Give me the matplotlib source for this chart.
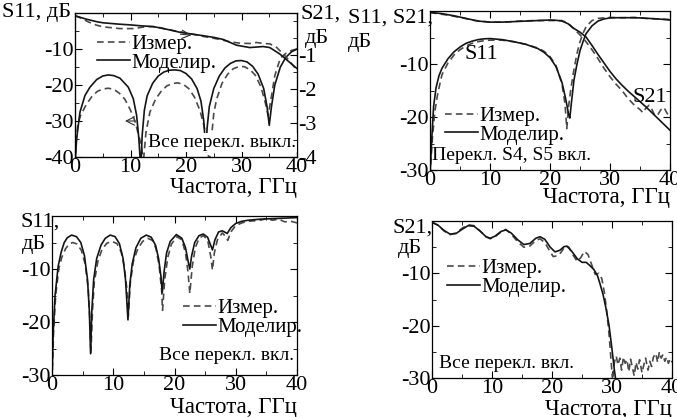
import matplotlib.pyplot as plt
from matplotlib.ticker import MultipleLocator

plt.rcParams['font.family'] = ['Liberation Serif', 'DejaVu Serif']
plt.rcParams['axes.unicode_minus'] = False
plt.rcParams['font.size'] = 15

# ---- panel a: all switches off (S11 left axis, S21 right axis) ----
fa_s11_sim = [0, 0.3, 0.9, 1.8, 2.7, 3.9, 5, 6, 7, 8.1, 9.6, 10.5, 11.1, 11.5, 11.8,
              11.9, 12.1, 12.5, 13, 14, 15, 16, 17, 18, 19, 20, 21, 22, 22.7, 23.2, 23.6,
              23.8, 24.2, 25, 26, 27, 28, 29, 30, 31, 32, 33, 34, 34.6, 35, 35.4, 36, 37, 38, 39, 40]
a_s11_sim = [-42, -34.8, -27.5, -22.9, -20.6, -18.5, -17.5, -17.2, -17.4, -18.1, -20.6, -23.8, -28.4, -34.8, -42,
             -42, -34, -27, -23, -19.5, -17.5, -16.4, -15.9, -15.8, -16.0, -16.8, -18.3, -21, -24.5, -30, -38.5,
             -32, -26, -21, -17.5, -15.3, -14, -13.3, -13.2, -13.6, -14.8, -17, -21, -26, -31.2, -26, -20, -15, -12.3, -10.8, -10.0]
fa_s11_meas = [0, 0.2, 0.5, 1, 2, 3, 4, 5, 6, 7, 8, 9, 10, 10.8, 11.3, 12, 12.3,
               12.5, 12.8, 13.5, 14.5, 15.5, 16.5, 17.5, 18.5, 19.5, 20.5, 21.5, 22.5, 23.2, 23.8, 24.2,
               24.5, 25, 25.5, 26.5, 27.5, 28.5, 29.5, 30.5, 31.5, 32.5, 33.5, 34.3, 34.8, 35.3, 36, 37, 38, 39, 40]
a_s11_meas = [-42, -36, -31, -28.5, -25.5, -23.3, -21.8, -21.1, -20.9, -21.2, -22.3, -24, -27, -30, -33, -37, -42,
              -38, -33, -27.5, -24, -21.8, -20.3, -19.6, -19.4, -19.8, -21, -23.3, -27, -31, -36, -42,
              -36, -28, -24, -19.5, -17, -15.5, -14.9, -14.9, -15.7, -17.3, -20.5, -25, -28.5, -24, -17.4, -12.5, -11.2, -10.4, -10.0]
fa_s21_sim = [0, 2, 4, 5.1, 8, 9.9, 12, 14.1, 17.1, 18.9, 21, 23.1, 25, 26.7, 29.1, 31.5, 33.9, 35.1, 36.9, 38.7, 40]
a_s21_sim = [0.17, 0.07, -0.01, -0.04, -0.08, -0.10, -0.13, -0.15, -0.25, -0.32, -0.37, -0.42, -0.47, -0.53,
             -0.70, -0.77, -0.74, -0.77, -0.96, -1.21, -1.39]
fa_s21_meas = [0, 0.9, 2.5, 3.9, 5.1, 8.1, 10.5, 12.9, 14.7, 17.1, 19.5, 23.1, 26.1, 27.9, 29.7, 31.5, 32.7,
               34, 35.1, 36.3, 38.1, 39, 40]
a_s21_meas = [0.17, 0.11, -0.02, -0.11, -0.16, -0.21, -0.21, -0.15, -0.16, -0.25, -0.32, -0.44, -0.53, -0.60,
              -0.64, -0.65, -0.62, -0.65, -0.66, -0.76, -1.06, -1.24, -1.45]

# ---- panel b: switches S4, S5 on ----
fb_s11_sim = [0, 0.3, 0.6, 1, 1.5, 2, 3, 4, 5, 6, 7, 8, 9, 10, 12, 14, 16, 18, 19, 20, 21, 22, 22.6, 23.1, 23.3,
              23.6, 24, 24.5, 25, 25.5, 26, 27, 28, 29, 30, 32, 35, 38, 40]
b_s11_sim = [-31, -24, -18, -14.5, -12.2, -10.8, -9.0, -7.7, -6.8, -6.1, -5.7, -5.4, -5.25, -5.2, -5.4, -5.8,
             -6.3, -7.1, -7.8, -8.8, -10.5, -13.5, -16.5, -19.5, -20.2,
             -17, -13, -10, -7.5, -5.8, -4.3, -2.8, -1.9, -1.5, -1.3, -1.25, -1.3, -1.5, -1.7]
fb_s11_meas = [0, 0.4, 0.8, 1.3, 2, 3, 4, 5, 6, 7, 8, 9, 10, 12, 14, 16, 18, 19, 20, 21, 22, 22.5, 22.8,
               23.1, 23.5, 24, 24.5, 25, 25.5, 26, 27, 28, 30, 32, 34, 36, 38, 40]
b_s11_meas = [-31, -24, -19, -15.5, -12.0, -9.8, -8.3, -7.3, -6.6, -6.1, -5.8, -5.6, -5.5, -5.5, -5.8, -6.3,
              -7.0, -7.6, -8.6, -10.3, -13.8, -17.5, -22.2,
              -18, -14.5, -11, -8, -5.8, -4.2, -3.0, -1.8, -1.4, -1.2, -1.3, -1.2, -1.4, -1.5, -1.6]
fb_s21_sim = [0, 2, 4, 6, 8, 10, 12, 14, 16, 18, 20, 21, 22, 23, 24, 25, 26, 27, 28, 29, 30, 31, 32, 33, 34,
              35, 36, 37, 38, 39, 40]
b_s21_sim = [-0.25, -0.5, -0.9, -1.4, -1.9, -2.1, -2.1, -2.0, -1.9, -1.8, -1.7, -1.75, -1.9, -2.4, -3.3, -4.0,
             -4.9, -6.5, -8.2, -9.8, -11.4, -12.8, -14.0, -15.1, -16.1, -17.1, -18.1, -19.2, -20.3, -21.4, -22.5]
fb_s21_meas = [0, 2.5, 5, 7.5, 10, 12.5, 15, 17.5, 20, 22, 23, 24, 25, 26, 27, 28, 29, 30, 31, 32, 33, 34,
               35, 35.5, 36, 36.5, 37, 37.5, 38, 38.5, 39, 39.5, 40]
b_s21_meas = [-0.3, -0.7, -1.2, -1.8, -2.1, -2.1, -1.9, -1.8, -1.8, -1.8, -2.3, -3.4, -4.5, -5.8, -7.3, -9.0,
              -10.8, -12.4, -13.8, -15, -16.5, -17.7, -18.6, -19.2, -18.3, -17.8, -18.6, -19.8, -19.5, -18.6,
              -18.2, -19.3, -20]

# ---- panel c: all switches on, S11 ----
fc_s11_sim = [0, 0.2, 0.5, 1, 1.5, 2, 2.5, 3.2, 4, 4.7, 5.3, 5.8, 6.1, 6.3, 6.5, 6.8, 7.3, 8, 8.7, 9.5,
              10.3, 11, 11.6, 12.0, 12.4, 12.7, 13.1, 13.7, 14.5, 15.4, 16.2, 16.9, 17.4, 17.8, 18.0,
              18.3, 18.7, 19.3, 20.3, 21.2, 21.8, 22.3, 22.5, 22.8, 23.3, 24.0, 24.7, 25.4, 25.9, 26.2,
              26.6, 27.2, 27.8, 28.3, 28.6, 29.2, 30, 31, 32, 34, 36, 38, 40]
c_s11_sim = [-31, -22, -15, -9.5, -6.8, -5.0, -4.1, -3.6, -3.9, -5.0, -7.5, -12, -18, -26, -18, -12, -8, -5.5,
             -4.2, -3.6, -3.9, -5.2, -8, -12, -19.6, -13, -9, -6, -4.2, -3.6, -4.0, -5.5, -8, -11.5, -14.5,
             -10.5, -7, -4.8, -3.5, -4.2, -6, -9, -10, -7.5, -5, -3.7, -3.4, -4.0, -5.5, -6.4,
             -4.5, -3.0, -2.8, -3.1, -3.3, -2.2, -1.4, -1.0, -0.8, -0.6, -0.5, -0.4, -0.3]
fc_s11_meas = [0, 0.25, 0.6, 1.1, 1.6, 2.2, 2.8, 3.4, 4.1, 4.8, 5.4, 5.9, 6.2, 6.35, 6.6, 6.9, 7.5, 8.2, 9,
               9.8, 10.6, 11.3, 11.8, 12.2, 12.45, 12.8, 13.3, 14, 14.8, 15.6, 16.4, 17.0, 17.5, 17.9, 18.05,
               18.4, 18.9, 19.5, 20.4, 21.2, 21.8, 22.2, 22.5, 22.9, 23.4, 24, 24.7, 25.4, 25.9, 26.2,
               26.5, 27, 27.8, 28.3, 28.7, 29.2, 30, 31, 32, 34, 35, 36, 37, 38, 39, 40]
c_s11_meas = [-31, -22, -15, -10, -7.8, -6.2, -5.3, -5.0, -5.3, -6.5, -9, -13.5, -20, -26, -18, -12.5, -8.5,
              -6.2, -5.1, -4.8, -5.2, -6.8, -9.5, -13.5, -19, -12.5, -8.5, -6.2, -4.8, -4.2, -4.6, -6.2,
              -9.5, -14, -17.8, -12, -7.8, -5.3, -3.9, -4.5, -7, -10.5, -14.6, -9.5, -6, -4.2, -3.7, -4.5,
              -7.5, -10.2, -7, -4.5, -3.2, -3.8, -4.6, -3, -1.8, -1.3, -1.0, -0.8, -0.5, -0.8, -0.6, -1.1,
              -1.0, -1.3]

# ---- panel d: all switches on, S21 ----
fd_s21_sim = [0, 1, 2, 3, 4, 5, 6, 7, 8, 9, 9.7, 10.5, 11.5, 12.3, 13.2, 14.3, 15.3, 16.3, 17.3, 18, 18.8,
              19.7, 20.5, 21.3, 22, 22.5, 23.3, 24.2, 25, 25.7, 26.3, 27, 27.6, 28, 28.5, 29, 29.5, 30,
              30.4, 30.7]
d_s21_sim = [-0.25, -0.8, -1.8, -2.5, -2.4, -1.6, -0.9, -1.0, -1.9, -3.0, -3.3, -2.9, -2.0, -1.7, -2.3, -3.6,
             -4.5, -4.3, -3.3, -3.0, -3.5, -5.0, -5.9, -5.6, -4.9, -4.8, -5.8, -7.2, -7.9, -7.9, -8.5, -9.3,
             -10.5, -12.0, -14, -16.7, -19.9, -24.5, -28.5, -31]
fd_s21_meas = [0, 1, 2, 3, 4, 5, 6, 7, 8, 9, 9.7, 10.5, 11.5, 12.3, 13.2, 14.3, 15.3, 16.3, 17.3, 18, 18.8,
               19.5, 20.2, 21, 21.5, 22.2, 22.8, 23.5, 24.2, 24.8, 25.4, 26, 26.6, 27.2, 27.8, 28.3, 28.7,
               29.1, 29.5, 29.8, 30.1, 30.4, 30.7, 31, 31.3, 31.6, 31.9, 32.2, 32.5, 32.8, 33.1, 33.4, 33.7,
               34, 34.3, 34.6, 35, 35.3, 35.6, 36, 36.3, 36.6, 36.9, 37.3, 37.6, 37.9, 38.2, 38.5, 38.8,
               39.1, 39.4, 39.7, 40]
d_s21_meas = [-0.25, -0.8, -1.9, -2.6, -2.3, -1.4, -0.7, -0.9, -1.9, -3.0, -3.4, -3.0, -2.1, -1.6, -2.5, -4.0,
              -5.0, -4.8, -3.7, -3.4, -4.1, -5.5, -6.8, -6.6, -6.0, -4.8, -5.0, -6.5, -7.7, -7.0, -5.8, -6.4,
              -8.3, -10.2, -10.0, -11.0, -13.5, -17, -21.5, -26, -30.5, -27, -25.8, -27.5, -26.2, -28.5,
              -26, -27.2, -26.5, -28.8, -26.4, -28, -29.6, -27, -28.3, -26.5, -29, -27.5, -26.2, -28.5,
              -26.8, -27.8, -26, -25.3, -27, -25, -26.2, -25.5, -26.8, -26, -27.2, -26.3, -27]

W, H = 677, 417
SIM = dict(color='#151515', lw=1.2)
MEAS = dict(color='#4a4a4a', lw=1.2, ls=(0, (4, 2.5)))


def box(l, t, r, b):
    return [l / W, 1 - b / H, (r - l) / W, (b - t) / H]


def px(x, y):
    return x / W, 1 - y / H


def style(ax, ylo, right=True):
    ax.set_xlim(0, 40)
    ax.set_ylim(ylo, 0)
    ax.set_xticks([0, 10, 20, 30, 40])
    ax.set_yticks(list(range(ylo, 0, 10)))
    ax.xaxis.set_minor_locator(MultipleLocator(5))
    ax.yaxis.set_minor_locator(MultipleLocator(5))
    ax.tick_params(which='both', direction='in', top=True, right=right, labelsize=16, pad=1)
    ax.tick_params(which='major', length=5)
    ax.tick_params(which='minor', length=3)
    for s in ax.spines.values():
        s.set_linewidth(0.9)


def legend(ax, anchor):
    ax.legend(loc='upper left', bbox_to_anchor=anchor, frameon=False, fontsize=15,
              handlelength=1.6, handletextpad=0.05, labelspacing=-0.05,
              borderaxespad=0, borderpad=0)


fig = plt.figure(figsize=(W / 100, H / 100), dpi=100)

# panel a
ax1 = fig.add_axes(box(75, 13, 297, 157))
style(ax1, -40, right=False)
ax1.plot(fa_s11_meas, a_s11_meas, label='Измер.', **MEAS)
ax1.plot(fa_s11_sim, a_s11_sim, label='Моделир.', **SIM)
ax1b = ax1.twinx()
ax1b.set_ylim(-4, 0.25)
ax1b.set_yticks([-4, -3, -2, -1])
ax1b.yaxis.set_minor_locator(MultipleLocator(0.5))
ax1b.tick_params(which='both', direction='in', labelsize=16, pad=1)
ax1b.tick_params(which='major', length=5)
ax1b.tick_params(which='minor', length=3)
ax1b.plot(fa_s21_meas, a_s21_meas, **MEAS)
ax1b.plot(fa_s21_sim, a_s21_sim, **SIM)
legend(ax1, (0.099, 0.85))
ax1.text(39.8, -36, 'Все перекл. выкл.', ha='right', va='center', fontsize=14,
         bbox=dict(fc='white', ec='none', pad=0.5))
ax1.annotate('', xy=(8.5, -30), xytext=(11.3, -30),
             arrowprops=dict(arrowstyle='->', lw=0.8, color='#333'))
ax1b.annotate('', xy=(21.5, -0.41), xytext=(18.5, -0.37),
              arrowprops=dict(arrowstyle='->', lw=0.8, color='#333'))
fig.text(*px(2, 13), 'S11, дБ', ha='left', va='center', fontsize=16)
fig.text(*px(300, 14), 'S21,', ha='left', va='center', fontsize=16)
fig.text(*px(305, 38), 'дБ', ha='left', va='center', fontsize=16)
fig.text(*px(297, 187), 'Частота, ГГц', ha='right', va='center', fontsize=16.5)

# panel b
ax2 = fig.add_axes(box(430, 11, 670, 170))
style(ax2, -30)
ax2.plot(fb_s11_meas, b_s11_meas, label='Измер.', **MEAS)
ax2.plot(fb_s11_sim, b_s11_sim, label='Моделир.', **SIM)
ax2.plot(fb_s21_meas, b_s21_meas, **MEAS)
ax2.plot(fb_s21_sim, b_s21_sim, **SIM)
legend(ax2, (0.0625, 0.40))
ax2.text(0.3, -27.2, 'Перекл. S4, S5 вкл.', ha='left', va='center', fontsize=14)
ax2.text(5.8, -8.3, 'S11', ha='left', va='center', fontsize=16)
ax2.text(33.8, -16.3, 'S21', ha='left', va='center', fontsize=16)
fig.text(*px(348, 18), 'S11, S21,', ha='left', va='center', fontsize=16)
fig.text(*px(348, 42), 'дБ', ha='left', va='center', fontsize=16)
fig.text(*px(670, 198), 'Частота, ГГц', ha='right', va='center', fontsize=16.5)

# panel c
ax3 = fig.add_axes(box(52, 216, 297, 375))
style(ax3, -30)
ax3.plot(fc_s11_meas, c_s11_meas, label='Измер.', **MEAS)
ax3.plot(fc_s11_sim, c_s11_sim, label='Моделир.', **SIM)
legend(ax3, (0.535, 0.48))
ax3.text(39.5, -26.3, 'Все перекл. вкл.', ha='right', va='center', fontsize=14)
fig.text(*px(20, 222), 'S11,', ha='left', va='center', fontsize=16)
fig.text(*px(22, 245), 'дБ', ha='left', va='center', fontsize=16)
fig.text(*px(297, 408), 'Частота, ГГц', ha='right', va='center', fontsize=16.5)

# panel d
ax4 = fig.add_axes(box(432, 221, 672, 378))
style(ax4, -30)
ax4.plot(fd_s21_meas, d_s21_meas, label='Измер.', **MEAS)
ax4.plot(fd_s21_sim, d_s21_sim, label='Моделир.', **SIM)
legend(ax4, (0.0625, 0.76))
ax4.text(1.2, -27.3, 'Все перекл. вкл.', ha='left', va='center', fontsize=14)
fig.text(*px(393, 228), 'S21,', ha='left', va='center', fontsize=16)
fig.text(*px(398, 248), 'дБ', ha='left', va='center', fontsize=16)
fig.text(*px(672, 410), 'Частота, ГГц', ha='right', va='center', fontsize=16.5)

fig.savefig('out.png', dpi=100)
